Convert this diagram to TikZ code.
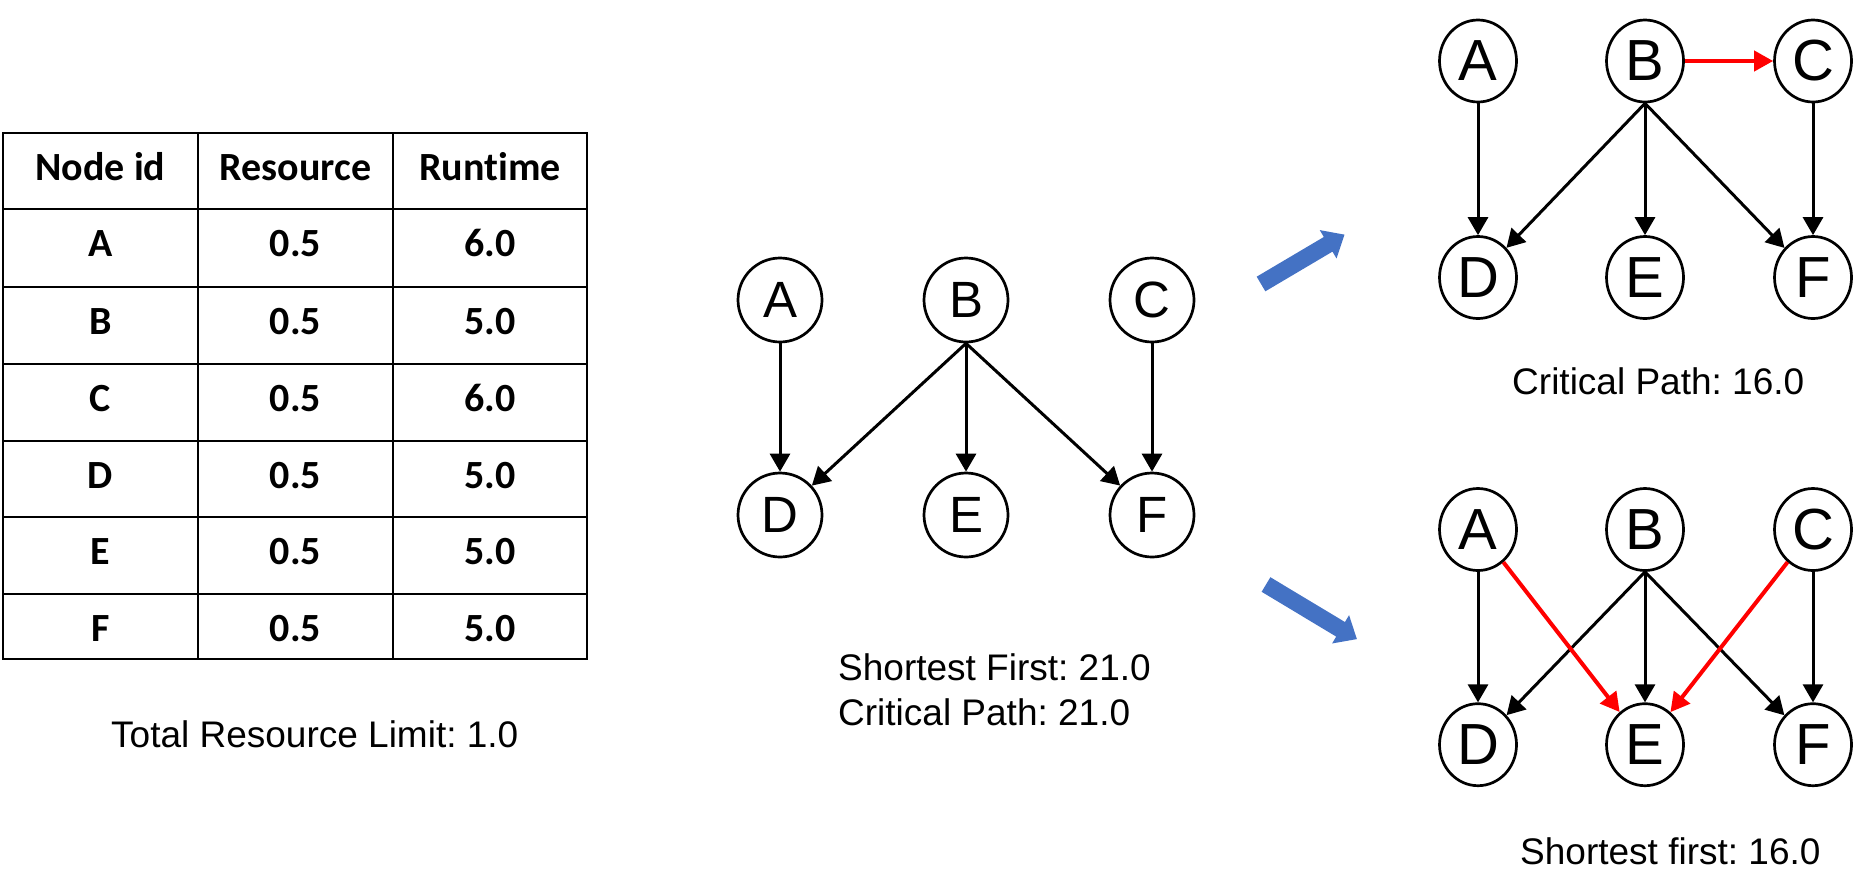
\documentclass[tikz,border=0pt]{standalone}
\usepackage{fontspec}
\setmainfont{Liberation Sans}
\newfontfamily\tablefont[Ligatures=NoCommon]{Carlito}
\usetikzlibrary{arrows.meta,shapes.geometric}

\definecolor{arrowblue}{HTML}{4472C4}

\tikzset{
  job/.style={circle, draw, line width=2.7pt, minimum size=84pt, inner sep=0pt, font=\fontsize{51}{51}\selectfont},
  jobs/.style={ellipse, draw, line width=2.7pt, minimum width=77pt, minimum height=82pt, inner sep=0pt, font=\fontsize{58}{58}\selectfont},
  dep/.style={line width=3pt, -{Triangle[length=18pt,width=20pt]}},
  hot/.style={red, line width=4pt, -{Triangle[length=19pt,width=20pt]}},
  cell/.style={anchor=base, inner sep=0pt, font=\tablefont\bfseries\fontsize{40}{40}\selectfont},
  note/.style={anchor=base west, inner sep=0pt, font=\frenchspacing\fontsize{37}{45}\selectfont},
  grid/.style={line width=2pt},
  flow/.style={fill=arrowblue}
}

\begin{document}
\begin{tikzpicture}[x=1pt,y=-1pt]
\useasboundingbox (0,0) rectangle (1870,895);

% table
\draw[grid] (3,133) rectangle (587,659);
\foreach \y in {209,287,364,441,517,594}
  \draw[grid] (3,\y) -- (587,\y);
\foreach \x in {198,393}
  \draw[grid] (\x,133) -- (\x,659);
\node[cell] (hid) at (100.5,180) {Node id};
\node[cell] (hres) at (295.5,180) {Resource};
\node[cell] (hrun) at (490,180) {Runtime};
\foreach \id/\res/\run/\base in {A/0.5/6.0/256, B/0.5/5.0/334, C/0.5/6.0/411, D/0.5/5.0/488, E/0.5/5.0/564, F/0.5/5.0/641}{
  \node[cell] (id\id) at (100.5,\base) {\id};
  \node[cell] (res\id) at (295.5,\base) {\res};
  \node[cell] (run\id) at (490,\base) {\run};
}
\node[note] (limit) at (111,747) {Total Resource Limit: 1.0};

% input graph
\node[job] (A) at (780,300) {A};
\node[job] (B) at (966,300) {B};
\node[job] (C) at (1152,300) {C};
\node[job] (D) at (780,515) {D};
\node[job] (E) at (966,515) {E};
\node[job] (F) at (1152,515) {F};
\draw[dep] (A) -- (D);
\draw[dep] (B.south) -- (D);
\draw[dep] (B) -- (E);
\draw[dep] (B.south) -- (F);
\draw[dep] (C) -- (F);
\node[note] (sfmid) at (838,680) {Shortest First: 21.0};
\node[note] (cpmid) at (838,725) {Critical Path: 21.0};

% blue arrows
\fill[flow, shift={(1261,284)}, rotate=30.6] (0,-8.5) -- (78,-8.5) -- (78,-16.5) -- (97,0) -- (78,16.5) -- (78,8.5) -- (0,8.5) -- cycle;
\fill[flow, shift={(1266,584.5)}, rotate=-31] (0,-8.5) -- (87,-8.5) -- (87,-16.5) -- (106,0) -- (87,16.5) -- (87,8.5) -- (0,8.5) -- cycle;

% critical path result
\node[jobs] (cpA) at (1478,61) {A};
\node[jobs] (cpB) at (1645,61) {B};
\node[jobs] (cpC) at (1813,61) {C};
\node[jobs] (cpD) at (1478,277.5) {D};
\node[jobs] (cpE) at (1645,277.5) {E};
\node[jobs] (cpF) at (1813,277.5) {F};
\draw[dep] (cpA) -- (cpD);
\draw[dep] (cpB.south) -- (cpD);
\draw[dep] (cpB) -- (cpE);
\draw[dep] (cpB.south) -- (cpF);
\draw[dep] (cpC) -- (cpF);
\draw[hot] (cpB) -- (cpC);
\node[note] (cptop) at (1512,394) {Critical Path: 16.0};

% shortest first result
\node[jobs] (sfA) at (1478,529.5) {A};
\node[jobs] (sfB) at (1645,529.5) {B};
\node[jobs] (sfC) at (1813,529.5) {C};
\node[jobs] (sfD) at (1478,744.7) {D};
\node[jobs] (sfE) at (1645,744.7) {E};
\node[jobs] (sfF) at (1813,744.7) {F};
\draw[dep] (sfA) -- (sfD);
\draw[dep] (sfB.south) -- (sfD);
\draw[dep] (sfB) -- (sfE);
\draw[dep] (sfB.south) -- (sfF);
\draw[dep] (sfC) -- (sfF);
\draw[hot] (sfA) -- (sfE);
\draw[hot] (sfC) -- (sfE);
\node[note] (sfbot) at (1520,864) {Shortest first: 16.0};
\end{tikzpicture}
\end{document}
